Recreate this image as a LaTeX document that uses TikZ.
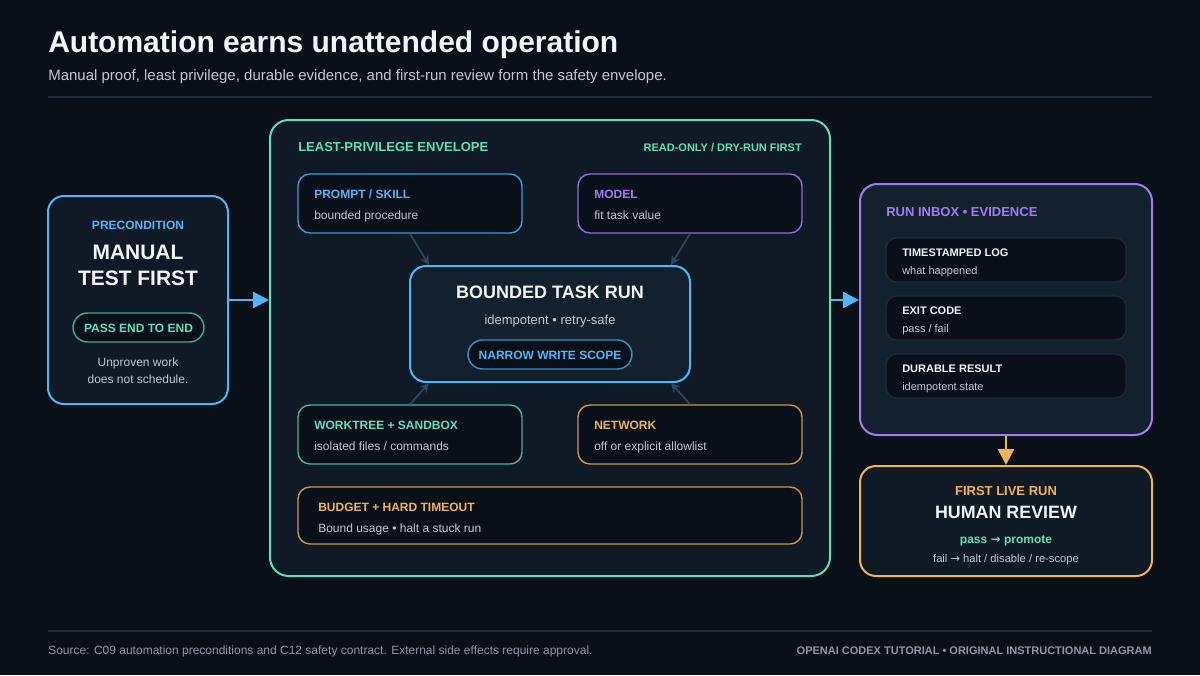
\documentclass[tikz,border=0pt]{standalone}
\usepackage{fontspec}
\setmainfont{Liberation Sans}
\newfontfamily\arrowfont{DejaVu Sans}
\usetikzlibrary{arrows.meta,calc}
\definecolor{bg}{HTML}{0A1018}
\definecolor{panel}{HTML}{0F1A26}
\definecolor{panelhi}{HTML}{13212F}
\definecolor{inner}{HTML}{09101A}
\definecolor{cblue}{HTML}{4DB8F5}
\definecolor{cblued}{HTML}{3A9FD6}
\definecolor{cteal}{HTML}{5EE0B8}
\definecolor{ctealdk}{HTML}{3FA88B}
\definecolor{cpurple}{HTML}{A07EF0}
\definecolor{cpurpled}{HTML}{8A6FD6}
\definecolor{corange}{HTML}{F0B450}
\definecolor{coranged}{HTML}{C9954A}
\definecolor{cwhite}{HTML}{F2F5F8}
\definecolor{cgray}{HTML}{C0C9D2}
\definecolor{cconn}{HTML}{2F465C}
\definecolor{cfoot}{HTML}{8B98A6}
\definecolor{crule}{HTML}{1E2B38}
\definecolor{cnarrow}{HTML}{3A8FC4}
\newcommand{\fs}[1]{\fontsize{#1}{#1}\selectfont}
\tikzset{
  boxshape/.style={rounded corners=#1, inner sep=0pt},
  bigbox/.style={boxshape=12pt, line width=1.5pt},
  cardbox/.style={boxshape=9pt, line width=1.1pt, fill=inner},
  evbox/.style={boxshape=8pt, line width=0.9pt, draw=crule, fill=inner},
  pillbox/.style={boxshape=11pt, line width=1.1pt, fill=inner},
  lbl/.style={inner sep=0pt, anchor=base west},
  clbl/.style={inner sep=0pt, anchor=base},
  rlbl/.style={inner sep=0pt, anchor=base east},
  conn/.style={draw=cconn, line width=1.3pt, -{Stealth[length=7pt,width=7pt]}},
  flow/.style={line width=1.9pt, -{Triangle[length=12pt,width=12pt]}},
}
\begin{document}
\begin{tikzpicture}[x=0.75pt,y=-0.75pt]
\fill[bg] (0,0) rectangle (1200,675);
\useasboundingbox (0,0) rectangle (1200,675);

% header
\node[lbl, text=cwhite, font=\fs{22.5pt}\bfseries] (title) at (48,52) {Automation earns unattended operation};
\node[lbl, text=cgray, font=\fs{11.25pt}] (subtitle) at (48,80) {Manual proof, least privilege, durable evidence, and first-run review form the safety envelope.};
\draw[crule, line width=1.1pt] (48,97) -- (1152,97);

% precondition box
\node[bigbox, draw=cblue, fill=panel, minimum width={180*0.75pt}, minimum height={208*0.75pt}] (pre) at (138,300) {};
\node[clbl, text=cblue, font=\fs{9pt}\bfseries] (preT) at (138,229) {PRECONDITION};
\node[clbl, text=cwhite, font=\fs{15.7pt}\bfseries] (preA) at (138,259) {MANUAL};
\node[clbl, text=cwhite, font=\fs{15.7pt}\bfseries] (preB) at (138,285) {TEST FIRST};
\node[pillbox, draw=ctealdk, minimum width={131*0.75pt}, minimum height={29*0.75pt}] (pass) at (138.5,327.5) {};
\node[clbl, text=cteal, font=\fs{9pt}\bfseries] (passT) at (138.5,332) {PASS END TO END};
\node[clbl, text=cgray, font=\fs{9pt}] (preC) at (138,366) {Unproven work};
\node[clbl, text=cgray, font=\fs{9pt}] (preD) at (138,383) {does not schedule.};

% envelope
\node[boxshape=14pt, line width=1.5pt, draw=cteal, fill=panel, minimum width={560*0.75pt}, minimum height={456*0.75pt}] (env) at (550,348) {};
\node[lbl, text=cteal, font=\fs{9.75pt}\bfseries] (envT) at (298,151) {LEAST-PRIVILEGE ENVELOPE};
\node[rlbl, text=cteal, font=\fs{8.25pt}\bfseries] (envR) at (802,151) {READ-ONLY / DRY-RUN FIRST};

% prompt / model
\node[cardbox, draw=cblued, minimum width={224*0.75pt}, minimum height={59*0.75pt}] (prompt) at (410,203.5) {};
\node[lbl, text=cblue, font=\fs{9pt}\bfseries] (promptT) at (314,198) {PROMPT / SKILL};
\node[lbl, text=cgray, font=\fs{9pt}] (promptS) at (314,219) {bounded procedure};
\node[cardbox, draw=cpurpled, minimum width={224*0.75pt}, minimum height={59*0.75pt}] (model) at (690,203.5) {};
\node[lbl, text=cpurple, font=\fs{9pt}\bfseries] (modelT) at (594,198) {MODEL};
\node[lbl, text=cgray, font=\fs{9pt}] (modelS) at (594,219) {fit task value};

% bounded task run
\node[boxshape=12pt, line width=1.5pt, draw=cblue, fill=panelhi, minimum width={280*0.75pt}, minimum height={116*0.75pt}] (run) at (550,324) {};
\node[clbl, text=cwhite, font=\fs{13.5pt}\bfseries] (runT) at (550,298) {BOUNDED TASK RUN};
\node[clbl, text=cgray, font=\fs{9.75pt}] (runS) at (550,324) {idempotent • retry-safe};
\node[pillbox, draw=cnarrow, minimum width={164*0.75pt}, minimum height={29*0.75pt}] (narrow) at (550,354.5) {};
\node[clbl, text=cblue, font=\fs{9pt}\bfseries] (narrowT) at (550,359) {NARROW WRITE SCOPE};

% worktree / network
\node[cardbox, draw=ctealdk!80!cteal, minimum width={224*0.75pt}, minimum height={59*0.75pt}] (work) at (410,434.5) {};
\node[lbl, text=cteal, font=\fs{9pt}\bfseries] (workT) at (314,429) {WORKTREE + SANDBOX};
\node[lbl, text=cgray, font=\fs{9pt}] (workS) at (314,450) {isolated files / commands};
\node[cardbox, draw=coranged, minimum width={224*0.75pt}, minimum height={59*0.75pt}] (net) at (690,434.5) {};
\node[lbl, text=corange, font=\fs{9pt}\bfseries] (netT) at (594,429) {NETWORK};
\node[lbl, text=cgray, font=\fs{9pt}] (netS) at (594,450) {off or explicit allowlist};

% budget
\node[cardbox, draw=coranged, minimum width={504*0.75pt}, minimum height={57*0.75pt}] (budget) at (550,515.5) {};
\node[lbl, text=corange, font=\fs{9pt}\bfseries] (budgetT) at (318,511) {BUDGET + HARD TIMEOUT};
\node[lbl, text=cgray, font=\fs{9pt}] (budgetS) at (318,532) {Bound usage • halt a stuck run};

% inner connectors
\draw[conn] (prompt.south) -- ($(run.north west)+(20,0)$);
\draw[conn] (model.south) -- ($(run.north east)+(-20,0)$);
\draw[conn] (work.north) -- ($(run.south west)+(20,0)$);
\draw[conn] (net.north) -- ($(run.south east)+(-20,0)$);

% run inbox
\node[boxshape=13pt, line width=1.5pt, draw=cpurple, fill=panelhi, minimum width={292*0.75pt}, minimum height={251*0.75pt}] (inbox) at (1006,309.5) {};
\node[lbl, text=cpurple, font=\fs{9.75pt}\bfseries] (inboxT) at (886,216) {RUN INBOX • EVIDENCE};
\node[evbox, minimum width={240*0.75pt}, minimum height={44*0.75pt}] (log) at (1006,260) {};
\node[lbl, text=cwhite, font=\fs{8.25pt}\bfseries] (logT) at (902,256) {TIMESTAMPED LOG};
\node[lbl, text=cgray, font=\fs{8.25pt}] (logS) at (902,274) {what happened};
\node[evbox, minimum width={240*0.75pt}, minimum height={44*0.75pt}] (exit) at (1006,318) {};
\node[lbl, text=cwhite, font=\fs{8.25pt}\bfseries] (exitT) at (902,314) {EXIT CODE};
\node[lbl, text=cgray, font=\fs{8.25pt}] (exitS) at (902,332) {pass / fail};
\node[evbox, minimum width={240*0.75pt}, minimum height={44*0.75pt}] (dur) at (1006,376) {};
\node[lbl, text=cwhite, font=\fs{8.25pt}\bfseries] (durT) at (902,372) {DURABLE RESULT};
\node[lbl, text=cgray, font=\fs{8.25pt}] (durS) at (902,390) {idempotent state};

% human review
\node[bigbox, draw=corange, fill=panel, minimum width={292*0.75pt}, minimum height={110*0.75pt}] (review) at (1006,521) {};
\node[clbl, text=corange, font=\fs{9.75pt}\bfseries] (revT) at (1006,495) {FIRST LIVE RUN};
\node[clbl, text=cwhite, font=\fs{13.4pt}\bfseries] (revH) at (1006,518) {HUMAN REVIEW};
\node[clbl, text=cteal, font=\fs{9pt}\bfseries] (revP) at (1006,543) {pass {\arrowfont\fs{9pt}→} promote};
\node[clbl, text=cgray, font=\fs{8.4pt}] (revF) at (1006,562) {fail {\arrowfont\fs{8.4pt}→} halt / disable / re-scope};

% flow arrows
\draw[flow, draw=cblue, fill=cblue] (pre.east) -- (env.west |- pre.east);
\draw[flow, draw=cblue, fill=cblue] (env.east |- pre.east) -- (inbox.west |- pre.east);
\draw[flow, draw=corange, fill=corange] (inbox.south) -- (review.north);

% footer
\draw[crule, line width=1.1pt] (48,631) -- (1152,631);
\node[lbl, text=cfoot, font=\fs{9pt}] (src) at (48,654) {Source: C09 automation preconditions and C12 safety contract. External side effects require approval.};
\node[rlbl, text=cfoot, font=\fs{8.25pt}\bfseries] (brand) at (1152,654) {OPENAI CODEX TUTORIAL • ORIGINAL INSTRUCTIONAL DIAGRAM};
\end{tikzpicture}
\end{document}
